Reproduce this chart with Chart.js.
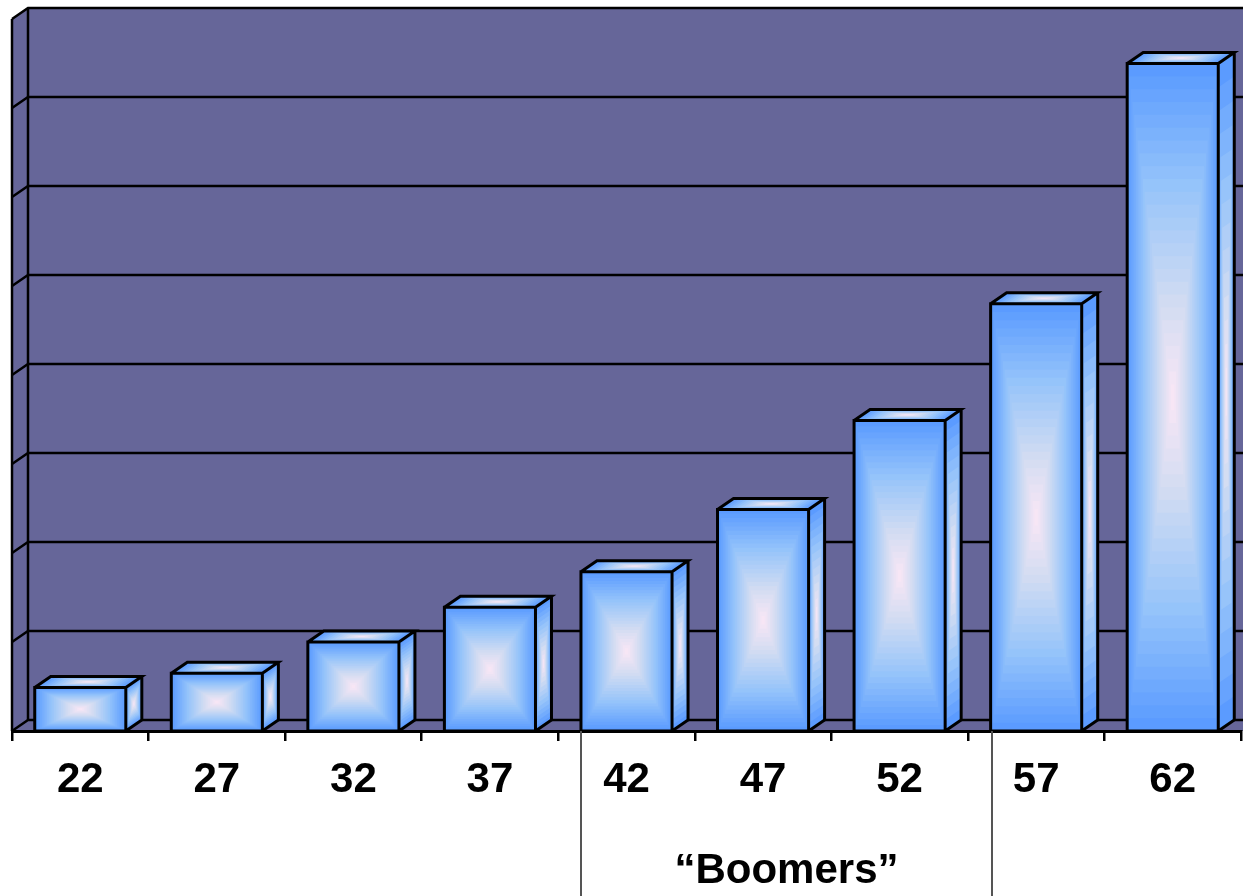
<!DOCTYPE html>
<html>
<head>
<meta charset="utf-8">
<script src="https://cdn.jsdelivr.net/npm/chart.js@4"></script>
<style>
  html, body { margin: 0; padding: 0; background: #ffffff; }
  canvas { display: block; }
</style>
</head>
<body>
<canvas id="c" width="1243" height="896"></canvas>
<script>
// ---- data ----
const ageLabels = ['22', '27', '32', '37', '42', '47', '52', '57', '62'];
const barValues = [0.49, 0.65, 1.0, 1.39, 1.79, 2.49, 3.49, 4.8, 7.5];
const yMax = 8;
const yStep = 1;
const groupLabel = '\u201CBoomers\u201D';
const groupFrom = '42';
const groupTo = '52';

// ---- styling ----
const WALL = '#666699';
const DX = 16, DY = 11;
const FONT = 'bold 42px "Liberation Sans", Arial, sans-serif';
const STOPS = [[0, [91, 155, 255]], [0.35, [150, 196, 250]], [0.7, [210, 220, 242]], [1, [253, 232, 246]]];

function colAt(t) {
  for (let i = 1; i < STOPS.length; i++) {
    if (t <= STOPS[i][0]) {
      const a = STOPS[i - 1], b = STOPS[i];
      const f = (t - a[0]) / (b[0] - a[0]);
      const c = a[1].map((v, k) => Math.round(v + (b[1][k] - v) * f));
      return 'rgb(' + c.join(',') + ')';
    }
  }
  return 'rgb(' + STOPS[STOPS.length - 1][1].join(',') + ')';
}

// concentric rectangle gradient in local coordinates (0,0)-(w,h)
function rectGrad(ctx, w, h, steps) {
  for (let i = 0; i < steps; i++) {
    const t = i / steps;
    const x0 = t * w / 2, y0 = t * h / 2;
    ctx.fillStyle = colAt(t);
    ctx.fillRect(x0, y0, w - 2 * x0, h - 2 * y0);
  }
}

const wallsPlugin = {
  id: 'walls',
  beforeDraw(chart) {
    const ctx = chart.ctx;
    const a = chart.chartArea;
    const ys = chart.scales.y;
    ctx.save();
    ctx.fillStyle = '#ffffff';
    ctx.fillRect(0, 0, chart.width, chart.height);
    // back wall
    ctx.fillStyle = WALL;
    ctx.fillRect(a.left + DX, a.top - DY, a.right - a.left + DX, a.bottom - a.top);
    // left wall
    ctx.beginPath();
    ctx.moveTo(a.left, a.top);
    ctx.lineTo(a.left + DX, a.top - DY);
    ctx.lineTo(a.left + DX, a.bottom - DY);
    ctx.lineTo(a.left, a.bottom);
    ctx.closePath();
    ctx.fill();
    // floor
    ctx.beginPath();
    ctx.moveTo(a.left, a.bottom);
    ctx.lineTo(a.left + DX, a.bottom - DY);
    ctx.lineTo(a.right + DX + 20, a.bottom - DY);
    ctx.lineTo(a.right + 20, a.bottom);
    ctx.closePath();
    ctx.fill();
    // gridlines
    ctx.strokeStyle = '#000';
    ctx.lineWidth = 2.5;
    for (let v = 0; v <= yMax + 1e-9; v += yStep) {
      const y = Math.round(ys.getPixelForValue(v));
      ctx.beginPath();
      ctx.moveTo(a.left, y);
      ctx.lineTo(a.left + DX, y - DY);
      ctx.lineTo(chart.width + 20, y - DY);
      ctx.stroke();
    }
    // wall edges
    ctx.beginPath();
    ctx.moveTo(a.left + DX, a.top - DY);
    ctx.lineTo(a.left + DX, a.bottom - DY);
    ctx.moveTo(a.left, a.top);
    ctx.lineTo(a.left, a.bottom);
    ctx.stroke();
    ctx.restore();
  }
};

const bars3dPlugin = {
  id: 'bars3d',
  afterDatasetsDraw(chart) {
    const ctx = chart.ctx;
    const meta = chart.getDatasetMeta(0);
    ctx.save();
    meta.data.forEach((bar) => {
      const p = bar.getProps(['x', 'y', 'base', 'width'], true);
      const xL = p.x - p.width / 2, xR = p.x + p.width / 2;
      const yT = p.y, yB = p.base;
      const w = xR - xL, h = yB - yT;
      // side face
      ctx.save();
      ctx.transform(1, -DY / DX, 0, 1, xR, yT);
      rectGrad(ctx, DX, h, 14);
      ctx.restore();
      // top face
      ctx.save();
      ctx.transform(1, 0, -DX / DY, 1, xL + DX, yT - DY);
      rectGrad(ctx, w, DY, 14);
      ctx.restore();
      // front face
      ctx.save();
      ctx.translate(xL, yT);
      rectGrad(ctx, w, h, 26);
      ctx.restore();
      // outlines
      ctx.strokeStyle = '#000';
      ctx.lineWidth = 3;
      ctx.lineJoin = 'miter';
      ctx.beginPath();
      ctx.rect(xL, yT, w, h);
      ctx.moveTo(xL, yT);
      ctx.lineTo(xL + DX, yT - DY);
      ctx.lineTo(xR + DX, yT - DY);
      ctx.lineTo(xR, yT);
      ctx.moveTo(xR + DX, yT - DY);
      ctx.lineTo(xR + DX, yB - DY);
      ctx.lineTo(xR, yB);
      ctx.stroke();
    });
    ctx.restore();
  }
};

const groupPlugin = {
  id: 'group',
  afterDraw(chart) {
    const ctx = chart.ctx;
    const meta = chart.getDatasetMeta(0);
    const a = chart.chartArea;
    const i0 = ageLabels.indexOf(groupFrom), i1 = ageLabels.indexOf(groupTo);
    const b0 = meta.data[i0].getProps(['x', 'width'], true);
    const xs = chart.scales.x;
    const step = xs.getPixelForValue(1) - xs.getPixelForValue(0);
    const x0 = Math.round(b0.x - b0.width / 2);
    const x1 = Math.round(b0.x - b0.width / 2 + (i1 - i0 + 1) * step) + 1;
    ctx.save();
    ctx.strokeStyle = '#555';
    ctx.lineWidth = 2;
    ctx.beginPath();
    ctx.moveTo(x0, a.bottom);
    ctx.lineTo(x0, chart.height);
    ctx.moveTo(x1, a.bottom);
    ctx.lineTo(x1, chart.height);
    ctx.stroke();
    ctx.fillStyle = '#000';
    ctx.font = FONT;
    ctx.textAlign = 'center';
    ctx.textBaseline = 'alphabetic';
    ctx.fillText(groupLabel, (x0 + x1) / 2, 883);
    ctx.restore();
  }
};

new Chart(document.getElementById('c'), {
  type: 'bar',
  data: {
    labels: ageLabels,
    datasets: [{
      data: barValues,
      backgroundColor: 'rgba(0,0,0,0)',
      borderWidth: 0,
      barPercentage: 0.667,
      categoryPercentage: 1.0
    }]
  },
  options: {
    responsive: false,
    animation: false,
    devicePixelRatio: 1,
    layout: { padding: { left: 12, right: 2, top: 19, bottom: 0 } },
    plugins: { legend: { display: false }, tooltip: { enabled: false } },
    scales: {
      y: {
        display: false,
        min: 0,
        max: yMax,
        ticks: { stepSize: yStep }
      },
      x: {
        offset: true,
        grid: {
          display: true,
          drawOnChartArea: false,
          drawTicks: true,
          tickLength: 10,
          color: '#000',
          lineWidth: 2.5,
          offset: true
        },
        border: { display: true, color: '#000', width: 3 },
        ticks: {
          color: '#000',
          font: { family: '"Liberation Sans", Arial, sans-serif', size: 42, weight: 'bold' },
          padding: 14,
          maxRotation: 0
        },
        afterFit(scale) { scale.height = 165; }
      }
    }
  },
  plugins: [wallsPlugin, bars3dPlugin, groupPlugin]
});
</script>
</body>
</html>
